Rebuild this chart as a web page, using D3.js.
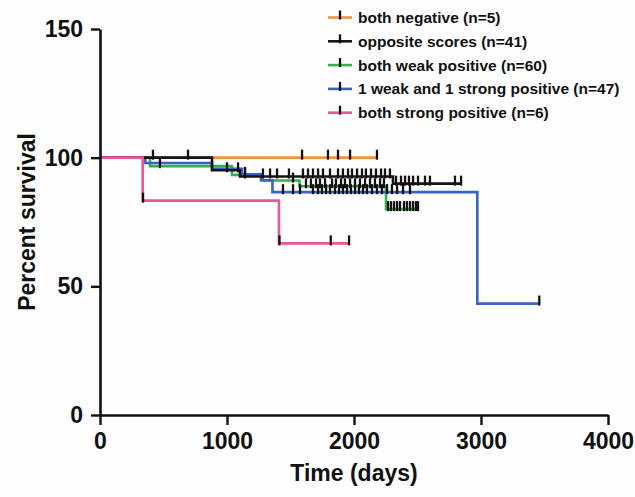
<!DOCTYPE html>
<html>
<head>
<meta charset="utf-8">
<script src="https://cdn.jsdelivr.net/npm/d3@7"></script>
<style>
  body { margin: 0; background: #fdfdfe; }
  svg { display: block; }
  text { font-family: "Liberation Sans", Arial, sans-serif; font-weight: bold; fill: #111; }
</style>
</head>
<body>
<div id="chart"></div>
<script>
const width = 635
const height = 497

// groups, in legend order
const names = [
  'both negative (n=5)',
  'opposite scores (n=41)',
  'both weak positive (n=60)',
  '1 weak and 1 strong positive (n=47)',
  'both strong positive (n=6)'
]
const colors = ['#f4923c', '#151515', '#34b14c', '#3a62c6', '#ec5596']

// survival steps: [day, percent] from that day on
const stepsNeg = [[0, 100]]
const stepsOpp = [[0, 100], [882, 95.1], [1102, 92.7], [2307, 89.9]]
const stepsWeak = [[0, 100], [394, 96.7], [1039, 93.3], [1280, 91.1], [1571, 88.9], [2252, 80.0]]
const stepsMix = [[0, 100], [357, 97.9], [882, 95.7], [1118, 93.5], [1267, 91.2], [1358, 86.6], [2971, 43.3]]
const stepsStrong = [[0, 100], [336, 83.3], [1409, 66.7]]

// last day of follow-up per group
const endDays = [2181, 2843, 2504, 3459, 1961]

// censored days
const censNeg = [1591, 1795, 1874, 1969, 2181]
const censOpp = [417, 693, 1000, 1087, 1142, 1283, 1339, 1394, 1488, 1598, 1638, 1677, 1717, 1756,
  1811, 1874, 1913, 1953, 1984, 2024, 2063, 2094, 2134, 2173, 2213, 2244, 2283, 2331, 2370,
  2402, 2433, 2465, 2504, 2559, 2598, 2795, 2843]
const censWeak = [472, 1142, 1520, 1622, 1661, 1701, 1732, 1772, 1827, 1858, 1898, 1929, 1969,
  2008, 2047, 2087, 2126, 2165, 2205, 2236, 2268, 2291, 2315, 2339, 2362, 2394, 2417, 2441,
  2465, 2488, 2504]
const censMix = [1441, 1520, 1575, 1677, 1717, 1748, 1780, 1811, 1850, 1882, 1913, 1945, 1976,
  2008, 2039, 2071, 2102, 2142, 2181, 2220, 2260, 2299, 2339, 2386, 2441, 3459]
const censStrong = [339, 1413, 1817, 1961]

const xTicks = [0, 1000, 2000, 3000, 4000]
const yTicks = [0, 50, 100, 150]

const groups = names.map((name, i) => ({
  name,
  color: colors[i],
  steps: [stepsNeg, stepsOpp, stepsWeak, stepsMix, stepsStrong][i],
  end: endDays[i],
  censored: [censNeg, censOpp, censWeak, censMix, censStrong][i]
}))

const x = d3.scaleLinear().domain([0, 4000]).range([100, 608])
const y = d3.scaleLinear().domain([0, 150]).range([415, 29])

const svg = d3.select('#chart').append('svg')
  .attr('width', width)
  .attr('height', height)

function valueAt(steps, t) {
  let v = steps[0][1]
  steps.forEach(s => { if (s[0] <= t) v = s[1] })
  return v
}

const line = d3.line()
  .x(d => x(d[0]))
  .y(d => y(d[1]))
  .curve(d3.curveStepAfter)

// draw order: pink on top, black over orange
const drawOrder = [0, 2, 3, 1, 4]
drawOrder.forEach(i => {
  const g = groups[i]
  const pts = g.steps.concat([[g.end, g.steps[g.steps.length - 1][1]]])
  svg.append('path')
    .attr('d', line(pts))
    .attr('fill', 'none')
    .attr('stroke', g.color)
    .attr('stroke-width', 2.6)
})

drawOrder.forEach(i => {
  const g = groups[i]
  svg.append('g').selectAll('line')
    .data(g.censored)
    .join('line')
    .attr('x1', d => x(d))
    .attr('x2', d => x(d))
    .attr('y1', d => y(valueAt(g.steps, d)) - 8)
    .attr('y2', d => y(valueAt(g.steps, d)) + 2)
    .attr('stroke', '#111')
    .attr('stroke-width', 2.3)
})

// axes
const yAxis = svg.append('g')
  .attr('transform', `translate(${x(0)},0)`)
  .call(d3.axisLeft(y).tickValues(yTicks).tickSize(9).tickSizeOuter(0).tickPadding(8))
const xAxis = svg.append('g')
  .attr('transform', `translate(0,${y(0)})`)
  .call(d3.axisBottom(x).tickValues(xTicks).tickFormat(d3.format('d'))
    .tickSize(10).tickSizeOuter(0).tickPadding(8))

;[xAxis, yAxis].forEach(a => {
  a.select('.domain').attr('stroke', '#111').attr('stroke-width', 2.6)
  a.selectAll('.tick line').attr('stroke', '#111').attr('stroke-width', 2.4)
  a.selectAll('.tick text').style('font-size', '23px').attr('fill', '#111')
})

svg.append('text')
  .attr('x', x(2000))
  .attr('y', 481)
  .attr('text-anchor', 'middle')
  .style('font-size', '23px')
  .text('Time (days)')

svg.append('text')
  .attr('transform', 'translate(35,222) rotate(-90)')
  .attr('text-anchor', 'middle')
  .style('font-size', '23px')
  .text('Percent survival')

// legend
const legend = svg.append('g')
groups.forEach((g, i) => {
  const ly = 17.5 + i * 23.8
  legend.append('line')
    .attr('x1', 328).attr('x2', 352).attr('y1', ly).attr('y2', ly)
    .attr('stroke', g.color).attr('stroke-width', 2.6)
  legend.append('line')
    .attr('x1', 340).attr('x2', 340).attr('y1', ly - 7).attr('y2', ly + 2)
    .attr('stroke', '#111').attr('stroke-width', 2.3)
  legend.append('text')
    .attr('x', 358)
    .attr('y', ly)
    .attr('dy', '0.35em')
    .style('font-size', '15.5px')
    .text(g.name)
})
</script>
</body>
</html>
